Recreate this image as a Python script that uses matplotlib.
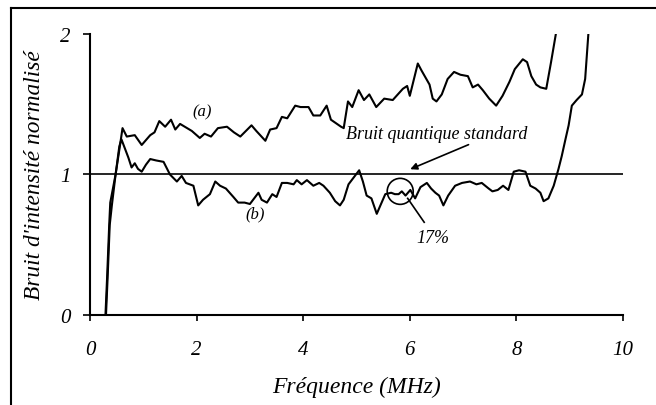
import matplotlib
matplotlib.use("Agg")
import matplotlib.pyplot as plt
from matplotlib.lines import Line2D
from matplotlib.patches import Ellipse

plt.rcParams['font.family'] = ['Liberation Serif', 'DejaVu Serif']
plt.rcParams['font.style'] = 'italic'

# courbe (a)
freq_a = [0.29, 0.32, 0.36, 0.38, 0.48, 0.56, 0.61, 0.69, 0.84, 0.97, 1.13, 1.21, 1.30, 1.41,
          1.52, 1.60, 1.69, 1.91, 2.06, 2.15, 2.27, 2.40, 2.57, 2.70, 2.82, 3.03, 3.12, 3.29,
          3.38, 3.50, 3.60, 3.70, 3.85, 3.95, 4.10, 4.19, 4.32, 4.44, 4.52, 4.71, 4.76, 4.84,
          4.92, 5.04, 5.14, 5.24, 5.37, 5.52, 5.68, 5.87, 5.95, 6.00, 6.15, 6.22, 6.31, 6.37,
          6.43, 6.50, 6.60, 6.71, 6.83, 6.95, 7.09, 7.18, 7.28, 7.37, 7.49, 7.62, 7.74, 7.87,
          7.97, 8.12, 8.20, 8.28, 8.37, 8.45, 8.56, 8.65, 8.74]
bruit_a = [0.0, 0.26, 0.64, 0.80, 1.0, 1.20, 1.33, 1.27, 1.28, 1.21, 1.28, 1.30, 1.38, 1.34,
           1.39, 1.32, 1.36, 1.31, 1.26, 1.29, 1.27, 1.33, 1.34, 1.30, 1.27, 1.35, 1.31, 1.24,
           1.32, 1.33, 1.41, 1.40, 1.49, 1.48, 1.48, 1.42, 1.42, 1.49, 1.39, 1.34, 1.33, 1.52,
           1.48, 1.60, 1.53, 1.57, 1.48, 1.54, 1.53, 1.61, 1.63, 1.56, 1.79, 1.74, 1.68, 1.64,
           1.54, 1.52, 1.57, 1.68, 1.73, 1.71, 1.70, 1.62, 1.64, 1.60, 1.54, 1.49, 1.56, 1.66,
           1.75, 1.82, 1.80, 1.70, 1.64, 1.62, 1.61, 1.80, 2.0]

# courbe (b)
freq_b = [0.30, 0.33, 0.37, 0.41, 0.48, 0.55, 0.59, 0.66, 0.72, 0.78, 0.84, 0.90, 0.97, 1.05,
          1.13, 1.24, 1.38, 1.50, 1.63, 1.72, 1.80, 1.94, 2.03, 2.12, 2.25, 2.35, 2.44, 2.55,
          2.69, 2.78, 2.90, 3.00, 3.08, 3.16, 3.22, 3.32, 3.42, 3.50, 3.60, 3.70, 3.82, 3.88,
          3.97, 4.07, 4.19, 4.30, 4.38, 4.50, 4.60, 4.69, 4.76, 4.85, 4.95, 5.05, 5.12, 5.19,
          5.28, 5.38, 5.46, 5.54, 5.65, 5.72, 5.79, 5.85, 5.92, 6.01, 6.10, 6.20, 6.32, 6.40,
          6.48, 6.55, 6.63, 6.72, 6.85, 6.98, 7.13, 7.25, 7.35, 7.48, 7.55, 7.65, 7.75, 7.85,
          7.95, 8.05, 8.17, 8.26, 8.36, 8.45, 8.51, 8.60, 8.70, 8.79, 8.85, 8.92, 8.98, 9.04,
          9.13, 9.23, 9.29, 9.35]
bruit_b = [0.0, 0.26, 0.64, 0.78, 1.0, 1.20, 1.25, 1.18, 1.12, 1.05, 1.08, 1.04, 1.02, 1.07,
           1.11, 1.10, 1.09, 1.0, 0.95, 0.99, 0.94, 0.92, 0.78, 0.82, 0.86, 0.95, 0.92, 0.90,
           0.84, 0.80, 0.80, 0.79, 0.83, 0.87, 0.82, 0.80, 0.86, 0.84, 0.94, 0.94, 0.93, 0.96,
           0.93, 0.96, 0.92, 0.94, 0.92, 0.87, 0.81, 0.78, 0.82, 0.93, 0.98, 1.03, 0.95, 0.85,
           0.83, 0.72, 0.79, 0.86, 0.87, 0.86, 0.86, 0.88, 0.85, 0.89, 0.83, 0.91, 0.94, 0.90,
           0.87, 0.85, 0.78, 0.85, 0.92, 0.94, 0.95, 0.93, 0.94, 0.90, 0.88, 0.89, 0.92, 0.89,
           1.02, 1.03, 1.02, 0.92, 0.90, 0.87, 0.81, 0.83, 0.92, 1.04, 1.13, 1.25, 1.35, 1.49,
           1.53, 1.57, 1.68, 2.0]

niveau_standard = 1.0
x_ticks = [0, 2, 4, 6, 8, 10]
y_ticks = [0, 1, 2]

fig = plt.figure(figsize=(6.56, 4.06), dpi=100)
ax = fig.add_axes([0.1372, 0.2217, 0.8125, 0.6921])

ax.plot(freq_a, bruit_a, color='black', lw=1.5)
ax.plot(freq_b, bruit_b, color='black', lw=1.5)
ax.axhline(niveau_standard, color='black', lw=1.2)

ax.set_xlim(0, 10)
ax.set_ylim(0, 2)
ax.set_xticks(x_ticks)
ax.set_yticks(y_ticks)
ax.set_xticklabels([str(v) for v in x_ticks], fontsize=15)
ax.set_yticklabels([str(v) for v in y_ticks], fontsize=15)
ax.tick_params(axis='x', direction='out', length=4, width=1.2, pad=14)
ax.tick_params(axis='y', direction='out', length=5, width=1.2, pad=9)
for s in ['top', 'right']:
    ax.spines[s].set_visible(False)
for s in ['left', 'bottom']:
    ax.spines[s].set_linewidth(1.5)

ax.set_xlabel('Fréquence (MHz)', fontsize=17)
ax.xaxis.set_label_coords(0.5, -0.218)
ax.set_ylabel("Bruit d'intensité normalisé", fontsize=16.8)
ax.yaxis.set_label_coords(-0.084, 0.5)

# annotations
ax.text(2.1, 1.45, '(a)', fontsize=12, ha='center', va='center')
ax.text(3.1, 0.72, '(b)', fontsize=12, ha='center', va='center')
ax.text(6.5, 1.29, 'Bruit quantique standard', fontsize=13, ha='center', va='center')
ax.annotate('', xy=(5.96, 1.03), xytext=(7.15, 1.22),
            arrowprops=dict(arrowstyle='-|>', color='black', lw=1.2, mutation_scale=10))
ax.add_patch(Ellipse((5.82, 0.88), 26 / 53.3, 26 / 140.5, fill=False, color='black', lw=1.2))
ax.plot([5.96, 6.27], [0.83, 0.66], color='black', lw=1.2)
ax.text(6.43, 0.55, '17%', fontsize=13, ha='center', va='center')

# cadre extérieur
fig.add_artist(Line2D([0.0168, 0.0168], [0.0, 0.978], color='black', lw=1.5))
fig.add_artist(Line2D([0.0168, 1.0], [0.978, 0.978], color='black', lw=1.5))

fig.savefig('out.png', dpi=100)
